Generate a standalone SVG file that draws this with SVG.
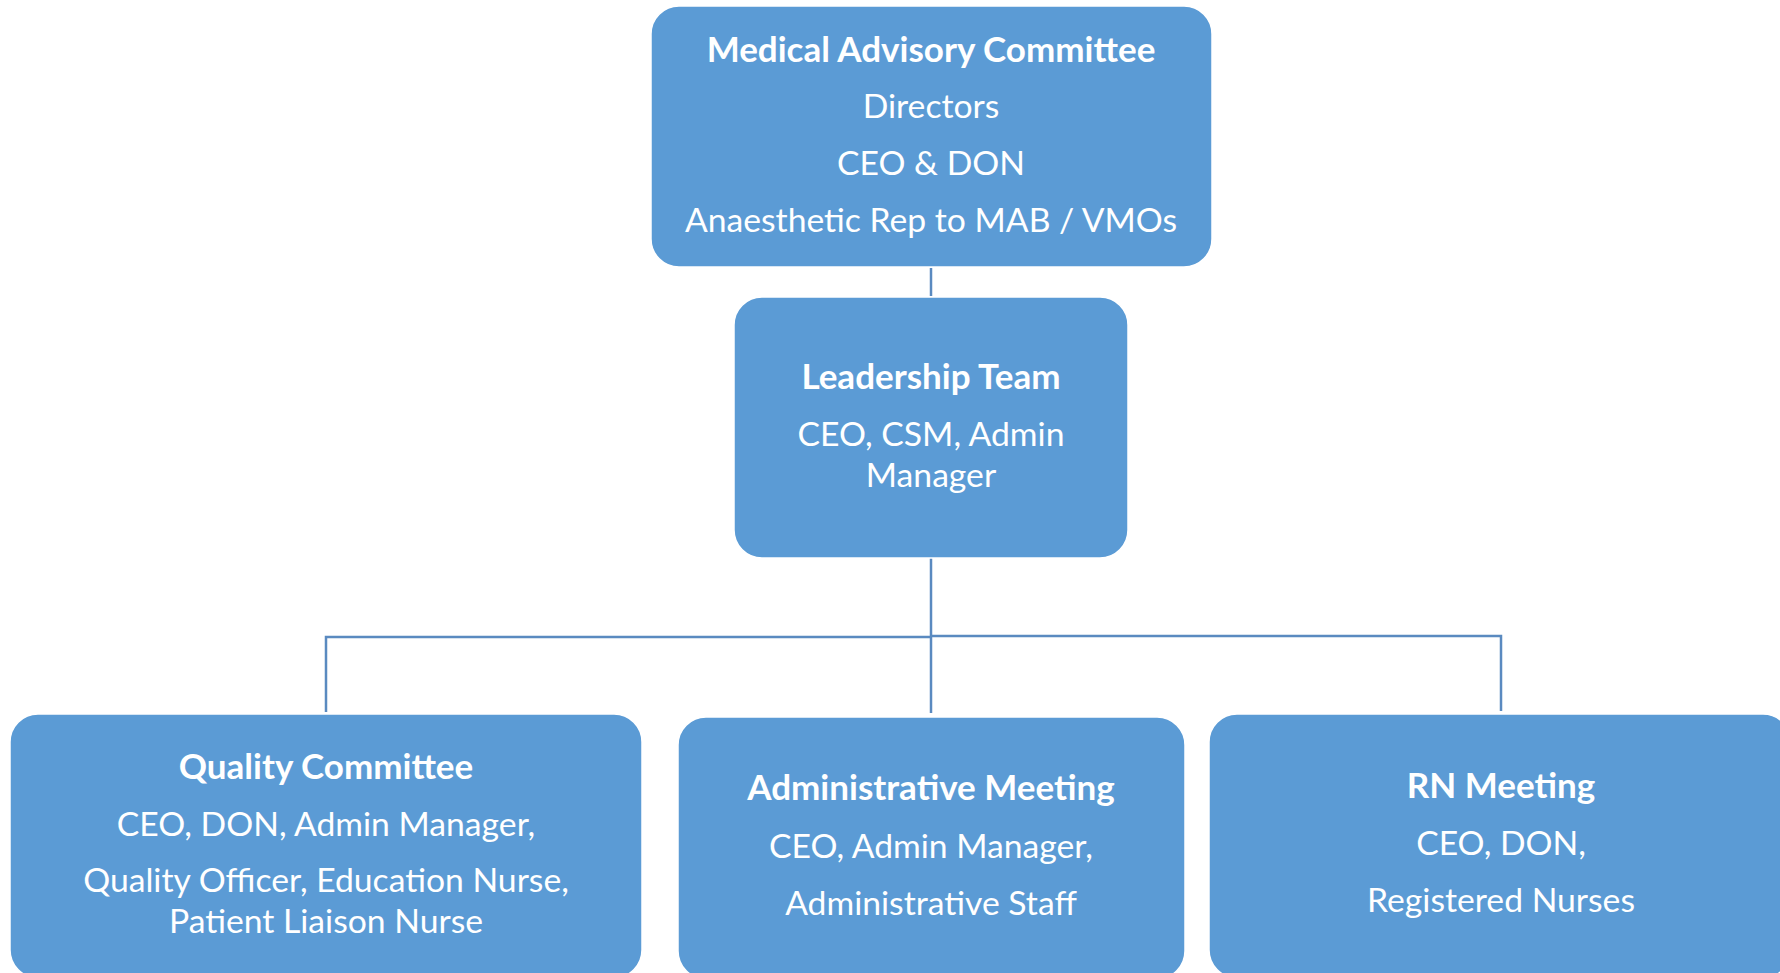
<svg xmlns="http://www.w3.org/2000/svg" width="1780" height="973" viewBox="0 0 1780 973">
  <style>
    .box { fill: #5B9BD5; stroke: #FFFFFF; stroke-width: 1.5; }
    .link { fill: none; stroke: #5A8AC0; stroke-width: 2.5; }
    text { font-family: "Lato", "Open Sans", sans-serif; fill: #FFFFFF; text-anchor: middle; font-size: 33.7px; }
    .title { font-weight: bold; font-size: 35px; }
  </style>
  <rect width="1780" height="973" fill="#FFFFFF"/>

  <!-- connectors -->
  <g id="connectors">
    <line class="link" x1="931" y1="268" x2="931" y2="296"/>
    <line class="link" x1="931" y1="558" x2="931" y2="713"/>
    <polyline class="link" points="326,712 326,637 931,637"/>
    <polyline class="link" points="931,636 1501,636 1501,711"/>
  </g>

  <g id="medical-advisory-committee">
    <rect class="box" x="651" y="6" width="561" height="261" rx="28"/>
    <text class="title" x="931" y="62">Medical Advisory Committee</text>
    <text x="931" y="118">Directors</text>
    <text x="931" y="175">CEO &amp; DON</text>
    <text x="931" y="232">Anaesthetic Rep to MAB / VMOs</text>
  </g>

  <g id="leadership-team">
    <rect class="box" x="734" y="297" width="394" height="261" rx="28"/>
    <text class="title" x="931" y="389">Leadership Team</text>
    <text x="931" y="446">CEO, CSM, Admin</text>
    <text x="931" y="487">Manager</text>
  </g>

  <g id="quality-committee">
    <rect class="box" x="10" y="714" width="632" height="264" rx="28"/>
    <text class="title" x="326" y="779">Quality Committee</text>
    <text x="326" y="836">CEO, DON, Admin Manager,</text>
    <text x="326" y="892">Quality Officer, Education Nurse,</text>
    <text x="326" y="933">Patient Liaison Nurse</text>
  </g>

  <g id="administrative-meeting">
    <rect class="box" x="678" y="717" width="507" height="262" rx="28"/>
    <text class="title" x="931" y="800">Administrative Meeting</text>
    <text x="931" y="858">CEO, Admin Manager,</text>
    <text x="931" y="915">Administrative Staff</text>
  </g>

  <g id="rn-meeting">
    <rect class="box" x="1209" y="714" width="582" height="264" rx="28"/>
    <text class="title" x="1501" y="798">RN Meeting</text>
    <text x="1501" y="855">CEO, DON,</text>
    <text x="1501" y="912">Registered Nurses</text>
  </g>
</svg>
